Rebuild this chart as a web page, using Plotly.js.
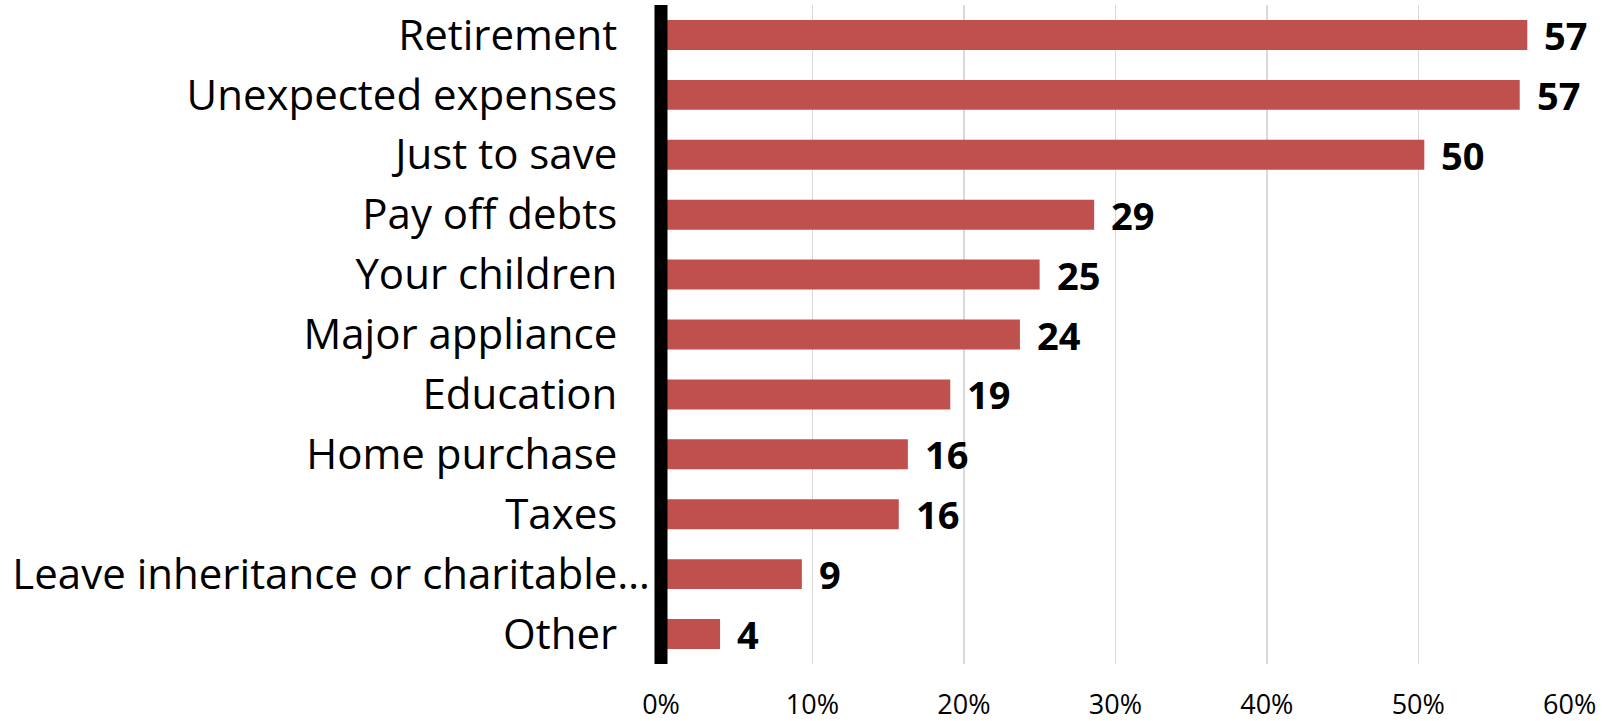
<!DOCTYPE html>
<html>
<head>
<meta charset="utf-8">
<script src="https://cdn.plot.ly/plotly-3.0.1.min.js"></script>
<style>html,body{margin:0;padding:0;background:#fff;}#chart{width:1606px;height:721px;}</style>
</head>
<body>
<div id="chart"></div>
<script>
const categories = ["Retirement", "Unexpected expenses", "Just to save", "Pay off debts", "Your children", "Major appliance", "Education", "Home purchase", "Taxes", "Leave inheritance or charitable…", "Other"];
const values = [57.2, 56.7, 50.4, 28.6, 25.0, 23.7, 19.1, 16.3, 15.7, 9.3, 3.9];
const valueLabels = ["57", "57", "50", "29", "25", "24", "19", "16", "16", "9", "4"];
const xTickVals = [0, 10, 20, 30, 40, 50, 60];
const xTickText = ["0%", "10%", "20%", "30%", "40%", "50%", "60%"];

const FONT = "'Open Sans', 'Noto Sans', sans-serif";
const PAD = "\u00a0\u00a0\u00a0";
const tickText = categories.map(c => c.endsWith("…") ? c : c + PAD);

const trace = {
  type: "bar",
  orientation: "h",
  x: values,
  y: categories,
  marker: { color: "#C0504D" },
  hoverinfo: "skip",
  cliponaxis: false
};

const annotations = values.map((v, i) => ({
  x: v, y: categories[i], xref: "x", yref: "y",
  text: "<b>" + valueLabels[i] + "</b>",
  showarrow: false, xanchor: "left", yanchor: "middle",
  xshift: 15,
  font: { family: FONT, size: 38, color: "#000" }
}));

const layout = {
  width: 1606, height: 721,
  margin: { l: 661, r: 36, t: 5, b: 57 },
  paper_bgcolor: "#fff", plot_bgcolor: "#fff",
  showlegend: false,
  bargap: 0.5,
  xaxis: {
    range: [0, 60.02],
    tickvals: xTickVals, ticktext: xTickText,
    showgrid: true, gridcolor: "#d9d9d9", gridwidth: 1.5,
    zeroline: false, showline: false, ticks: "",
    ticklabelstandoff: 22,
    tickfont: { family: FONT, size: 27, color: "#000" },
    fixedrange: true
  },
  yaxis: {
    type: "category",
    categoryorder: "array", categoryarray: categories,
    tickvals: categories, ticktext: tickText,
    autorange: "reversed",
    showgrid: false, zeroline: false, showline: false, ticks: "",
    ticklabelstandoff: 10,
    tickfont: { family: FONT, size: 42, color: "#000" },
    fixedrange: true
  },
  shapes: [{
    type: "line", xref: "paper", yref: "paper",
    x0: 0, x1: 0, y0: 0, y1: 1,
    line: { color: "#000", width: 13 },
    layer: "above"
  }],
  annotations: annotations
};

Plotly.newPlot("chart", [trace], layout, { displayModeBar: false, staticPlot: true });
</script>
</body>
</html>
